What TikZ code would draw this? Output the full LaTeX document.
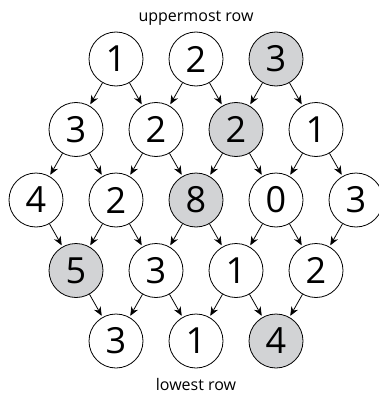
\documentclass[tikz,border=0pt]{standalone}
\usepackage{fontspec}
\setmainfont{Open Sans}
\usetikzlibrary{positioning, arrows.meta}
\definecolor{cellgray}{RGB}{210,211,213}

\tikzset{
  cell/.style={circle,draw,line width=0.8pt,minimum size=54pt,inner sep=0pt,
    font=\fontsize{36}{36}\selectfont},
  hit/.style={cell,fill=cellgray},
  rowlabel/.style={font=\fontsize{16}{16}\selectfont}
}

\begin{document}
\begin{tikzpicture}[>={Stealth[length=9pt,width=7.5pt]},line width=0.8pt,
    shorten >=1.5pt,on grid,node distance=70.5pt and 40pt]
    \useasboundingbox (0pt,0pt) rectangle (378pt,-396pt);

    % uppermost row
    \node[cell] (a1) at (116pt,-59pt) {1};
    \node[cell] (a2) [right=80pt of a1] {2};
    \node[hit]  (a3) [right=80pt of a2] {3};

    \node[cell] (b1) [below left=of a1] {3};
    \node[cell] (b2) [below right=of a1] {2};
    \node[hit]  (b3) [below right=of a2] {2};
    \node[cell] (b4) [below right=of a3] {1};

    \node[cell] (c1) [below left=of b1] {4};
    \node[cell] (c2) [below right=of b1] {2};
    \node[hit]  (c3) [below right=of b2] {8};
    \node[cell] (c4) [below right=of b3] {0};
    \node[cell] (c5) [below right=of b4] {3};

    \node[hit]  (d1) [below right=of c1] {5};
    \node[cell] (d2) [below right=of c2] {3};
    \node[cell] (d3) [below right=of c3] {1};
    \node[cell] (d4) [below right=of c4] {2};

    % lowest row
    \node[cell] (e1) [below right=of d1] {3};
    \node[cell] (e2) [below right=of d2] {1};
    \node[hit]  (e3) [below right=of d3] {4};

    \node[rowlabel] (top) [above=41pt of a2] {uppermost row};
    \node[rowlabel] (bot) [below=43pt of e2] {lowest row};

    \path[->]
      (a1) edge (b1) edge (b2)
      (a2) edge (b2) edge (b3)
      (a3) edge (b3) edge (b4)
      (b1) edge (c1) edge (c2)
      (b2) edge (c2) edge (c3)
      (b3) edge (c3) edge (c4)
      (b4) edge (c4) edge (c5)
      (c1) edge (d1)
      (c2) edge (d1) edge (d2)
      (c3) edge (d2) edge (d3)
      (c4) edge (d3) edge (d4)
      (c5) edge (d4)
      (d1) edge (e1)
      (d2) edge (e1) edge (e2)
      (d3) edge (e2) edge (e3)
      (d4) edge (e3);
\end{tikzpicture}
\end{document}
